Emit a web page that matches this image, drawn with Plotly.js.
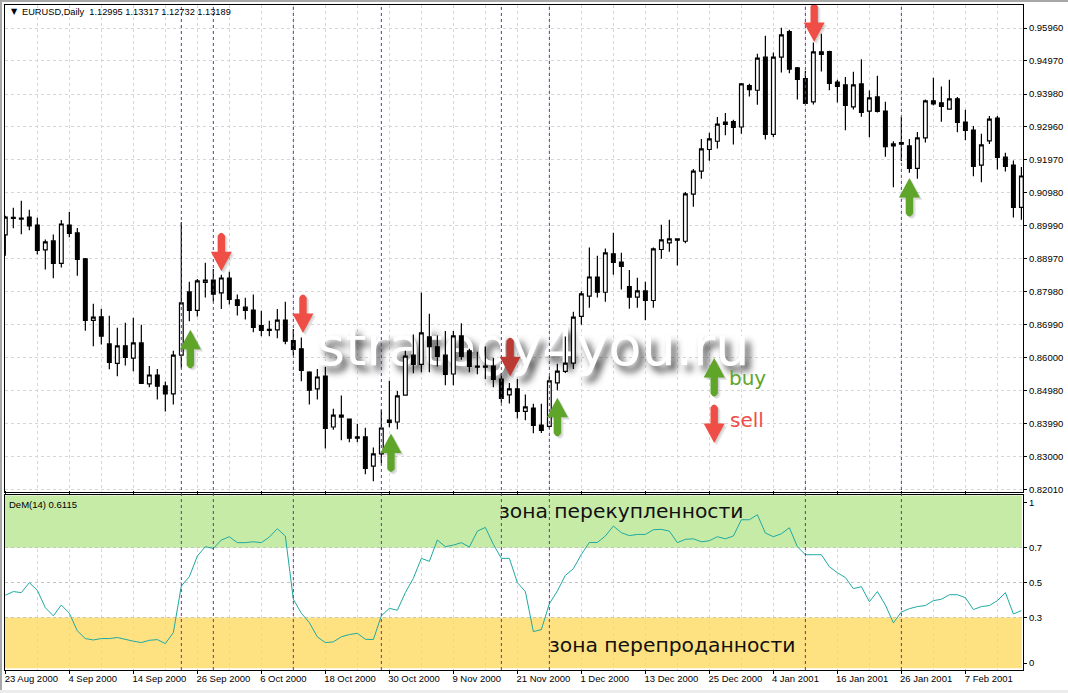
<!DOCTYPE html>
<html><head><meta charset="utf-8">
<script src="https://cdn.plot.ly/plotly-3.0.1.min.js"></script>
<style>
html,body{margin:0;padding:0;background:#fff;width:1068px;height:693px;overflow:hidden}
#c{position:absolute;left:0;top:0;width:1068px;height:693px}
.e{position:absolute}
</style></head><body>
<div class="e" style="left:0;top:0;width:1068px;height:2px;background:#a8a8a8"></div>
<div class="e" style="left:0;top:0;width:2px;height:693px;background:#a8a8a8"></div>
<div class="e" style="left:0;top:690px;width:1068px;height:3px;background:#ececec"></div>
<div id="c"></div>
<script>
const opens=[.8971,.9024,.9022,.9025,.9001,.8926,.8953,.8885,.9001,.8977,.8899,.8713,.8724,.8642,.8583,.8636,.8599,.8645,.8521,.8548,.8515,.8491,.8608,.8799,.8743,.8828,.8835,.8796,.8841,.8775,.8753,.8744,.8697,.8686,.8684,.8714,.8652,.8627,.8557,.8506,.8545,.8391,.8427,.8415,.8361,.8361,.8273,.8310,.8412,.8406,.8487,.8608,.8580,.8663,.8633,.8608,.8551,.8666,.8621,.8575,.8575,.8575,.8536,.8488,.8506,.8438,.8448,.8397,.8393,.8524,.8559,.8584,.8725,.8786,.8844,.8798,.8914,.8889,.8815,.8783,.8802,.8773,.8927,.8947,.8959,.8952,.9094,.9164,.9229,.9254,.9305,.9313,.9297,.9422,.9408,.9508,.9275,.9508,.9585,.9476,.9443,.9373,.9524,.9525,.9433,.9424,.9358,.9427,.9345,.9388,.9345,.9240,.9250,.9240,.9172,.9264,.9376,.9370,.9351,.9382,.9312,.9288,.9182,.9255,.9324,.9206,.9182,.9054];
const closes=[.9025,.9021,.9019,.8998,.8924,.8950,.8885,.9004,.8976,.8897,.8713,.8723,.8665,.8586,.8636,.8601,.8645,.8523,.8548,.8514,.8491,.8608,.8766,.8743,.8832,.8835,.8792,.8841,.8776,.8758,.8743,.8692,.8683,.8683,.8714,.8650,.8625,.8562,.8502,.8542,.8387,.8427,.8421,.8357,.8357,.8266,.8310,.8388,.8405,.8485,.8605,.8580,.8675,.8634,.8604,.8550,.8666,.8604,.8574,.8572,.8572,.8535,.8477,.8506,.8438,.8452,.8396,.8381,.8530,.8560,.8584,.8723,.8793,.8844,.8798,.8917,.8888,.8876,.8783,.8802,.8773,.8929,.8956,.8959,.8955,.9095,.9164,.9231,.9261,.9306,.9312,.9296,.9427,.9410,.9505,.9275,.9508,.9575,.9472,.9441,.9368,.9524,.9516,.9429,.9420,.9362,.9424,.9341,.9385,.9344,.9238,.9246,.9245,.9172,.9264,.9376,.9367,.9359,.9382,.9311,.9287,.9178,.9243,.9321,.9205,.9178,.9054,.9149];
const highs=[.9029,.9053,.9074,.9047,.9023,.8957,.8972,.9016,.9040,.8992,.8901,.8763,.8748,.8727,.8691,.8706,.8721,.8700,.8575,.8566,.8528,.8621,.9009,.8830,.8838,.8887,.8868,.8851,.8860,.8791,.8781,.8791,.8742,.8712,.8747,.8769,.8687,.8661,.8559,.8566,.8572,.8446,.8486,.8417,.8401,.8389,.8329,.8443,.8531,.8500,.8621,.8670,.8797,.8733,.8667,.8681,.8681,.8704,.8627,.8618,.8634,.8599,.8554,.8524,.8536,.8489,.8461,.8461,.8544,.8582,.8664,.8739,.8801,.8933,.8908,.8930,.8978,.8917,.8865,.8842,.8830,.8933,.9002,.9017,.8960,.9101,.9170,.9261,.9280,.9327,.9339,.9319,.9430,.9428,.9518,.9573,.9522,.9597,.9591,.9478,.9467,.9552,.9579,.9527,.9440,.9448,.9464,.9502,.9407,.9452,.9373,.9254,.9327,.9261,.9282,.9380,.9446,.9419,.9440,.9388,.9349,.9300,.9277,.9330,.9330,.9219,.9196,.9176];
const lows=[.8908,.8991,.8973,.8985,.8912,.8867,.8840,.8873,.8964,.8848,.8682,.8635,.8640,.8565,.8544,.8577,.8559,.8523,.8511,.8474,.8438,.8459,.8571,.8710,.8725,.8782,.8770,.8747,.8761,.8728,.8716,.8677,.8665,.8665,.8659,.8641,.8608,.8529,.8459,.8474,.8326,.8383,.8351,.8345,.8345,.8248,.8227,.8282,.8390,.8384,.8487,.8553,.8556,.8556,.8574,.8517,.8517,.8594,.8556,.8550,.8536,.8511,.8464,.8462,.8417,.8411,.8372,.8373,.8387,.8502,.8554,.8566,.8700,.8751,.8782,.8769,.8851,.8806,.8748,.8751,.8713,.8751,.8899,.8920,.8879,.8946,.9056,.9141,.9195,.9232,.9272,.9244,.9277,.9389,.9364,.9259,.9267,.9462,.9459,.9380,.9367,.9365,.9465,.9408,.9371,.9287,.9350,.9328,.9266,.9341,.9207,.9115,.9194,.9159,.9141,.9250,.9362,.9313,.9350,.9281,.9257,.9148,.9130,.9246,.9169,.9163,.9024,.9017];
const demarker=[.428,.449,.443,.5,.456,.357,.31,.372,.325,.224,.18,.172,.18,.18,.186,.174,.165,.157,.17,.174,.151,.214,.481,.534,.652,.706,.696,.744,.763,.729,.729,.734,.729,.761,.809,.767,.405,.325,.271,.19,.157,.161,.19,.203,.21,.176,.174,.31,.353,.342,.443,.525,.639,.622,.744,.706,.715,.729,.704,.795,.816,.719,.639,.639,.5,.449,.22,.231,.38,.452,.542,.58,.662,.73,.73,.767,.824,.786,.769,.776,.776,.803,.805,.795,.729,.748,.751,.734,.74,.763,.751,.767,.86,.86,.889,.784,.763,.78,.814,.706,.66,.66,.66,.591,.557,.529,.466,.477,.391,.449,.372,.27,.332,.351,.363,.369,.397,.405,.431,.431,.414,.346,.363,.369,.397,.443,.321,.34];
const bars=opens.map((_,i)=>i);

const priceTickValues=[.9596,.94964,.93967,.92971,.91974,.90978,.89982,.88985,.87989,.86993,.85996,.85,.84003,.83007,.82011];
const priceTickLabels=["0.95960","0.94970","0.93980","0.92960","0.91970","0.90980","0.89990","0.88970","0.87980","0.86990","0.86000","0.84980","0.83990","0.83000","0.82010"];
const demTickValues=[.04,.3,.5,.7,.96];
const demTickLabels=["0","0.3","0.5","0.7","1"];
const demLevels=[.3,.5,.7];
const N="\u00a0";
const dateTickBars=[0,8,16,24,32,40,48,56,64,72,80,88,96,104,112,120];
const dateTickLabels=["23 Aug 2000","4 Sep 2000"+N+N,"14 Sep 2000","26 Sep 2000","6 Oct 2000"+N+N+N,"18 Oct 2000"+N,"30 Oct 2000"+N,"9 Nov 2000"+N+N,"21 Nov 2000","1 Dec 2000"+N+N,"13 Dec 2000","25 Dec 2000","4 Jan 2001"+N+N+N,"16 Jan 2001"+N,"26 Jan 2001"+N,"7 Feb 2001"+N+N];
const cycleBars=[22,26,36,47,62,68,100,112];
const buySignals=[[23.125,.8685],[48.2,.8371],[69,.8479],[113,.9143],[88.6,.8599]];
const sellSignals=[[27,.8861],[37.2,.8675],[63.1,.8544,"#bb3a33"],[101.1,.9554],[88.6,.8343]];

const GREEN="#5fa52a",RED="#ee4e46",GRID="#d6d6d6",DASH="3px,3px",FONT="Liberation Sans";

function arrowPath(dir,dx,dy){
  // tip at the anchor; dir=1 body above tip (points down), dir=-1 body below tip (points up)
  const P=(x,y)=>(x+dx)+","+(dir*y+dy);
  return "M"+P(0,0)+"L"+P(-10.5,19.5)+"L"+P(-3.7,19.5)+"L"+P(-3.7,35.5)+"Q"+P(0,41.5)+" "+P(3.7,35.5)+"L"+P(3.7,19.5)+"L"+P(10.5,19.5)+"Z";
}
function arrow(sig,dir,color){
  const base={type:"path",xref:"x",yref:"y",xsizemode:"pixel",ysizemode:"pixel",xanchor:sig[0],yanchor:sig[1],layer:"above"};
  return [
    Object.assign({},base,{path:arrowPath(dir,2.5,-2.5),fillcolor:"rgba(60,60,60,.13)",line:{width:0}}),
    Object.assign({},base,{path:arrowPath(dir,1.2,-1.2),fillcolor:"rgba(60,60,60,.13)",line:{width:0}}),
    Object.assign({},base,{path:arrowPath(dir,0,0),fillcolor:sig[2]||color,line:{width:0}})
  ];
}
const shapes=[
  {type:"rect",xref:"x",yref:"y2",x0:-0.04,x1:127.05,y0:.7,y1:1,fillcolor:"#c6eba7",line:{width:0},layer:"below"},
  {type:"rect",xref:"x",yref:"y2",x0:-0.04,x1:127.05,y0:.01,y1:.3,fillcolor:"#fee180",line:{width:0},layer:"below"},
  ...cycleBars.map(b=>({type:"line",xref:"x",yref:"paper",x0:b,x1:b,y0:0,y1:1,line:{color:"#6f2da8",width:1,dash:"3px,3px"},layer:"above"})),
  ...buySignals.flatMap(s=>arrow(s,-1,GREEN)),
  ...sellSignals.flatMap(s=>arrow(s,1,RED))
];
const txt=(text,x,y,size,color,font,extra)=>Object.assign({text,xref:"x",yref:"y",x,y,xanchor:"left",yanchor:"middle",showarrow:false,font:{family:font||FONT,size,color:color||"#000"}},extra||{});
const annotations=[
  {text:"\u25BC",xref:"paper",yref:"paper",x:.0035,y:.9895,xanchor:"left",yanchor:"middle",showarrow:false,font:{family:"DejaVu Sans",size:8,color:"#000"}},
  {text:"EURUSD,Daily"+N+N+"1.12995 1.13317 1.12732 1.13189",xref:"paper",yref:"paper",x:.0146,y:.9895,xanchor:"left",yanchor:"middle",showarrow:false,font:{family:FONT,size:9.25,color:"#000"}},
  {text:"DeM(14) 0.6115",xref:"x",yref:"y2",x:.2,y:.95,xanchor:"left",yanchor:"middle",showarrow:false,font:{family:FONT,size:9.5,color:"#000"}},
  {text:"зона перекупленности",xref:"x",yref:"y2",x:61.4,y:.91,xanchor:"left",yanchor:"middle",showarrow:false,font:{family:"DejaVu Sans",size:20.3,color:"#111"}},
  {text:"зона перепроданности",xref:"x",yref:"y2",x:67.7,y:.145,xanchor:"left",yanchor:"middle",showarrow:false,font:{family:"DejaVu Sans",size:20.3,color:"#111"}},
  txt("buy",90.15,.8539,20,GREEN,"DejaVu Sans"),
  txt("sell",90.35,.8413,20,RED,"DejaVu Sans"),
  {text:"strategy4you.ru",xref:"x",yref:"y",x:38.7,y:.8634,xanchor:"left",yanchor:"middle",showarrow:false,font:{family:"DejaVu Sans",size:54,color:"#fff",shadow:"5px 6px 7px rgba(30,30,30,.85)"}}
];
const traces=[
  {type:"candlestick",x:bars,open:opens,high:highs,low:lows,close:closes,xaxis:"x",yaxis:"y",whiskerwidth:0,hoverinfo:"skip",showlegend:false,
   increasing:{line:{color:"#000",width:1.2},fillcolor:"#fff"},decreasing:{line:{color:"#000",width:1.2},fillcolor:"#000"}},
  {type:"scatter",mode:"lines",x:bars,y:demarker,xaxis:"x",yaxis:"y2",line:{color:"#20a9a0",width:1},hoverinfo:"skip",showlegend:false}
];
const layout={
  width:1068,height:693,autosize:false,showlegend:false,
  margin:{l:5,r:45,t:5,b:23,pad:0},paper_bgcolor:"rgba(0,0,0,0)",plot_bgcolor:"#fff",
  font:{family:FONT,size:9.5,color:"#000"},boxgap:.33,
  xaxis:{anchor:"y2",range:[-0.04,127.2],rangeslider:{visible:false},tickmode:"array",tickvals:dateTickBars,ticktext:dateTickLabels,
    ticks:"outside",ticklen:3,tickcolor:"#000",tickangle:0,ticklabelshift:26,ticklabelstandoff:-3,ticklabeloverflow:"allow",showgrid:false,
    minor:{tick0:0,dtick:4,showgrid:true,gridcolor:GRID,griddash:DASH,gridwidth:1,ticks:""},
    showline:true,linecolor:"#000",linewidth:1,mirror:"all",zeroline:false,tickfont:{size:9.5,family:FONT,color:"#000"}},
  yaxis:{domain:[.2677,1],range:[.81947,.96655],side:"right",tickmode:"array",tickvals:priceTickValues,ticktext:priceTickLabels,
    ticks:"outside",ticklen:3,tickcolor:"#000",showgrid:true,gridcolor:GRID,griddash:DASH,gridwidth:1,zeroline:false,
    showline:true,linecolor:"#000",linewidth:1,mirror:true,tickfont:{size:9.5,family:FONT,color:"#000"}},
  yaxis2:{domain:[0,.2627],range:[0,1],side:"right",tickmode:"array",tickvals:demTickValues,ticktext:demTickLabels,
    ticks:"outside",ticklen:3,tickcolor:"#000",showgrid:false,zeroline:false,
    minor:{tickmode:"array",tickvals:demLevels,showgrid:true,gridcolor:"#c4c4c4",griddash:DASH,gridwidth:1,ticks:""},
    showline:true,linecolor:"#000",linewidth:1,mirror:true,tickfont:{size:9.5,family:FONT,color:"#000"}},
  shapes,annotations
};
Plotly.newPlot("c",traces,layout,{staticPlot:true,displayModeBar:false}).then(gd=>{
  // the watermark lies under the candles but over the grid, as in the reference
  const ann=[...gd.querySelectorAll(".annotation")].find(a=>a.textContent==="strategy4you.ru");
  const sub=gd.querySelector(".cartesianlayer .subplot.xy");
  const plot=sub&&sub.querySelector(".overplot");
  if(ann&&plot)plot.parentNode.insertBefore(ann,plot);
});
</script>
</body></html>
